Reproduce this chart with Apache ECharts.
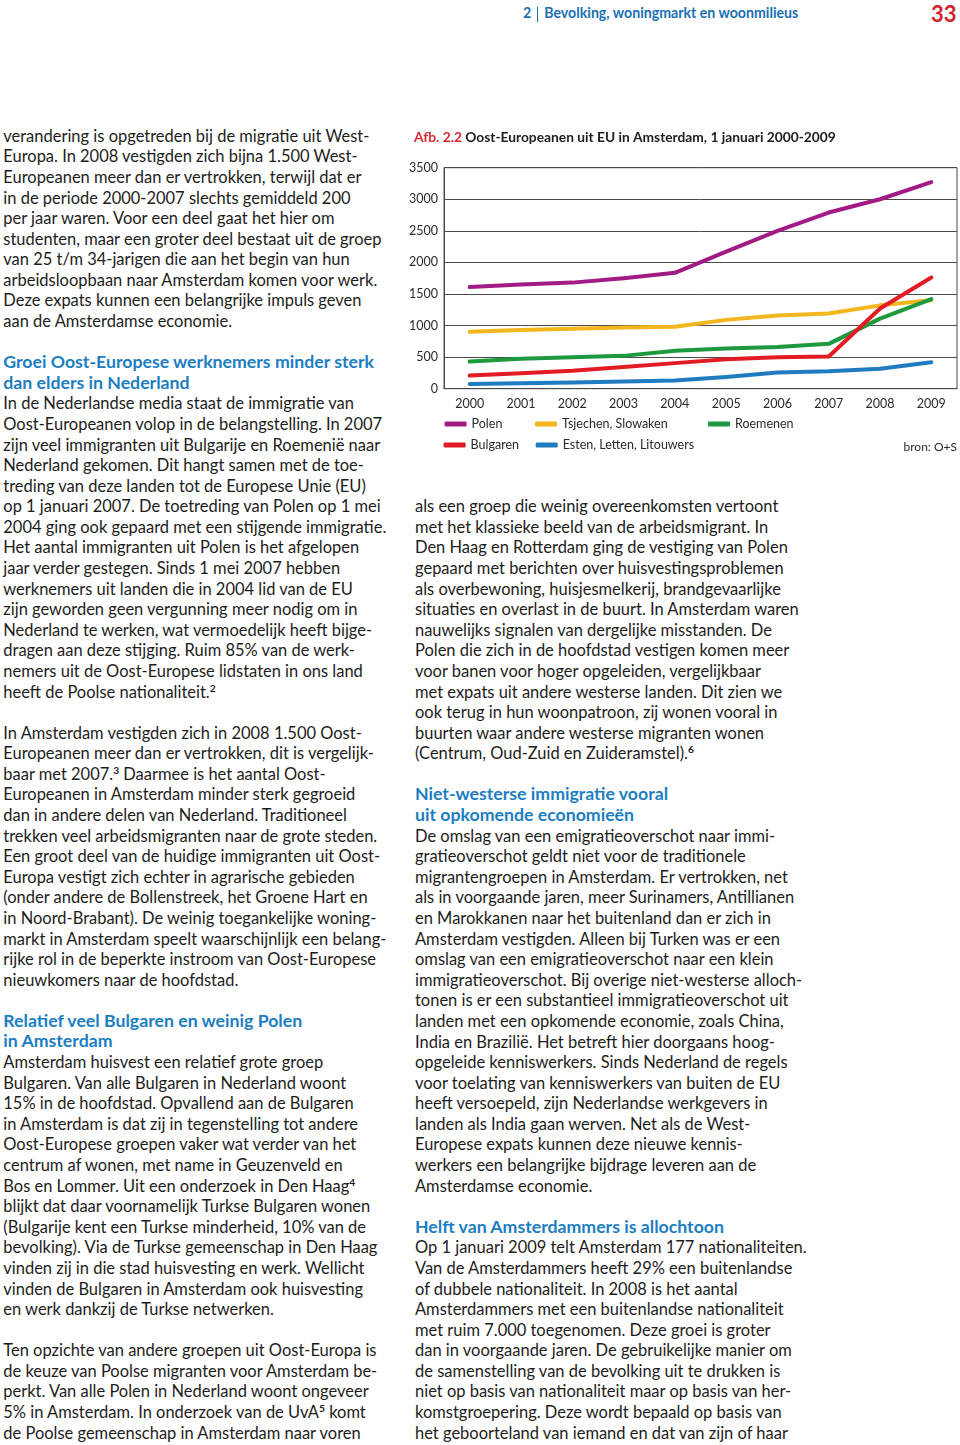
<!DOCTYPE html>
<html><head><meta charset="utf-8">
<script src="https://cdn.jsdelivr.net/npm/echarts@6/dist/echarts.min.js"></script>
<style>
html,body{margin:0;padding:0;background:#fff;}
#page{position:relative;width:960px;height:1445px;overflow:hidden;font-family:Lato,'Noto Sans',sans-serif;color:#1d1d1b;background:#fff;}
.ln{position:absolute;white-space:nowrap;}
.h{color:#1b7ec2;font-weight:bold;}
sup{font-size:0.62em;line-height:0;vertical-align:0.6em;font-weight:bold;}
#chart{position:absolute;left:400px;top:120px;width:560px;height:345px;}
#hdr{position:absolute;left:523px;white-space:nowrap;color:#1a6fb4;font-weight:bold;}
#hdr .bar{display:inline-block;width:1px;background:#1a6fb4;margin:0 6px 0 6px;vertical-align:middle;}
#pnum{position:absolute;left:931px;top:0.5px;color:#d2232a;font-weight:bold;white-space:nowrap;font-size:22px;line-height:26px;}
</style></head><body><div id="page"><div id="hdr"></div><div id="pnum">33</div><div id="chart"></div></div>
<script>
// ---- chart data ----
const categories = ['2000','2001','2002','2003','2004','2005','2006','2007','2008','2009'];
const seriesNames = ['Polen','Tsjechen, Slowaken','Roemenen','Bulgaren','Esten, Letten, Litouwers'];
const polen    = [1610,1650,1680,1750,1835,2170,2500,2790,3000,3270];
const tsjechen = [900,930,950,970,980,1090,1160,1190,1320,1400];
const roemenen = [430,475,500,520,600,635,660,710,1110,1420];
const bulgaren = [210,245,285,345,405,465,500,510,1270,1760];
const esten    = [75,85,100,115,130,185,255,275,315,420];
const yMin = 0, yMax = 3500, yStep = 500;
const chartTitleRed = 'Afb. 2.2';
const chartTitleRest = 'Oost-Europeanen uit EU in Amsterdam, 1 januari 2000-2009';
const sourceText = 'bron: O+S';

// ---- page text ----
const leftLines = [
'verandering is opgetreden bij de migratie uit West-',
'Europa. In 2008 vestigden zich bijna 1.500 West-',
'Europeanen meer dan er vertrokken, terwijl dat er',
'in de periode 2000-2007 slechts gemiddeld 200',
'per jaar waren. Voor een deel gaat het hier om',
'studenten, maar een groter deel bestaat uit de groep',
'van 25 t/m 34-jarigen die aan het begin van hun',
'arbeidsloopbaan naar Amsterdam komen voor werk.',
'Deze expats kunnen een belangrijke impuls geven',
'aan de Amsterdamse economie.',
'',
'#Groei Oost-Europese werknemers minder sterk',
'#dan elders in Nederland',
'In de Nederlandse media staat de immigratie van',
'Oost-Europeanen volop in de belangstelling. In 2007',
'zijn veel immigranten uit Bulgarije en Roemenië naar',
'Nederland gekomen. Dit hangt samen met de toe-',
'treding van deze landen tot de Europese Unie (EU)',
'op 1 januari 2007. De toetreding van Polen op 1 mei',
'2004 ging ook gepaard met een stijgende immigratie.',
'Het aantal immigranten uit Polen is het afgelopen',
'jaar verder gestegen. Sinds 1 mei 2007 hebben',
'werknemers uit landen die in 2004 lid van de EU',
'zijn geworden geen vergunning meer nodig om in',
'Nederland te werken, wat vermoedelijk heeft bijge-',
'dragen aan deze stijging. Ruim 85% van de werk-',
'nemers uit de Oost-Europese lidstaten in ons land',
'heeft de Poolse nationaliteit.^2',
'',
'In Amsterdam vestigden zich in 2008 1.500 Oost-',
'Europeanen meer dan er vertrokken, dit is vergelijk-',
'baar met 2007.^3 Daarmee is het aantal Oost-',
'Europeanen in Amsterdam minder sterk gegroeid',
'dan in andere delen van Nederland. Traditioneel',
'trekken veel arbeidsmigranten naar de grote steden.',
'Een groot deel van de huidige immigranten uit Oost-',
'Europa vestigt zich echter in agrarische gebieden',
'(onder andere de Bollenstreek, het Groene Hart en',
'in Noord-Brabant). De weinig toegankelijke woning-',
'markt in Amsterdam speelt waarschijnlijk een belang-',
'rijke rol in de beperkte instroom van Oost-Europese',
'nieuwkomers naar de hoofdstad.',
'',
'#Relatief veel Bulgaren en weinig Polen',
'#in Amsterdam',
'Amsterdam huisvest een relatief grote groep',
'Bulgaren. Van alle Bulgaren in Nederland woont',
'15% in de hoofdstad. Opvallend aan de Bulgaren',
'in Amsterdam is dat zij in tegenstelling tot andere',
'Oost-Europese groepen vaker wat verder van het',
'centrum af wonen, met name in Geuzenveld en',
'Bos en Lommer. Uit een onderzoek in Den Haag^4',
'blijkt dat daar voornamelijk Turkse Bulgaren wonen',
'(Bulgarije kent een Turkse minderheid, 10% van de',
'bevolking). Via de Turkse gemeenschap in Den Haag',
'vinden zij in die stad huisvesting en werk. Wellicht',
'vinden de Bulgaren in Amsterdam ook huisvesting',
'en werk dankzij de Turkse netwerken.',
'',
'Ten opzichte van andere groepen uit Oost-Europa is',
'de keuze van Poolse migranten voor Amsterdam be-',
'perkt. Van alle Polen in Nederland woont ongeveer',
'5% in Amsterdam. In onderzoek van de UvA^5 komt',
'de Poolse gemeenschap in Amsterdam naar voren'
];
const rightStart = 18;
const rightLines = [
'als een groep die weinig overeenkomsten vertoont',
'met het klassieke beeld van de arbeidsmigrant. In',
'Den Haag en Rotterdam ging de vestiging van Polen',
'gepaard met berichten over huisvestingsproblemen',
'als overbewoning, huisjesmelkerij, brandgevaarlijke',
'situaties en overlast in de buurt. In Amsterdam waren',
'nauwelijks signalen van dergelijke misstanden. De',
'Polen die zich in de hoofdstad vestigen komen meer',
'voor banen voor hoger opgeleiden, vergelijkbaar',
'met expats uit andere westerse landen. Dit zien we',
'ook terug in hun woonpatroon, zij wonen vooral in',
'buurten waar andere westerse migranten wonen',
'(Centrum, Oud-Zuid en Zuideramstel).^6',
'',
'#Niet-westerse immigratie vooral',
'#uit opkomende economieën',
'De omslag van een emigratieoverschot naar immi-',
'gratieoverschot geldt niet voor de traditionele',
'migrantengroepen in Amsterdam. Er vertrokken, net',
'als in voorgaande jaren, meer Surinamers, Antillianen',
'en Marokkanen naar het buitenland dan er zich in',
'Amsterdam vestigden. Alleen bij Turken was er een',
'omslag van een emigratieoverschot naar een klein',
'immigratieoverschot. Bij overige niet-westerse alloch-',
'tonen is er een substantieel immigratieoverschot uit',
'landen met een opkomende economie, zoals China,',
'India en Brazilië. Het betreft hier doorgaans hoog-',
'opgeleide kenniswerkers. Sinds Nederland de regels',
'voor toelating van kenniswerkers van buiten de EU',
'heeft versoepeld, zijn Nederlandse werkgevers in',
'landen als India gaan werven. Net als de West-',
'Europese expats kunnen deze nieuwe kennis-',
'werkers een belangrijke bijdrage leveren aan de',
'Amsterdamse economie.',
'',
'#Helft van Amsterdammers is allochtoon',
'Op 1 januari 2009 telt Amsterdam 177 nationaliteiten.',
'Van de Amsterdammers heeft 29% een buitenlandse',
'of dubbele nationaliteit. In 2008 is het aantal',
'Amsterdammers met een buitenlandse nationaliteit',
'met ruim 7.000 toegenomen. Deze groei is groter',
'dan in voorgaande jaren. De gebruikelijke manier om',
'de samenstelling van de bevolking uit te drukken is',
'niet op basis van nationaliteit maar op basis van her-',
'komstgroepering. Deze wordt bepaald op basis van',
'het geboorteland van iemand en dat van zijn of haar'
];

// ---- fitting helpers ----
const cv = document.createElement('canvas').getContext('2d');
function fit(text, weight, target){
  cv.font = weight + ' 100px Lato';
  return 100 * target / cv.measureText(text).width;
}
const fsB = fit(leftLines[0], 'normal', 366.7);
const fsH = fit('Groei Oost-Europese werknemers minder sterk', 'bold', 371.7);
const P = 20.585, Y0 = 137.5;
const page = document.getElementById('page');
function place(lines, start, x){
  lines.forEach((t, k) => {
    if (!t) return;
    const i = start + k;
    const isH = t[0] === '#';
    const txt = isH ? t.slice(1) : t;
    const fs = isH ? fsH : fsB;
    const d = document.createElement('div');
    d.className = 'ln' + (isH ? ' h' : '');
    d.style.left = x + 'px';
    d.style.top = (Y0 + i * P - P / 2 - 0.087 * fs) + 'px';
    d.style.fontSize = fs + 'px';
    d.style.lineHeight = P + 'px';
    d.innerHTML = txt.replace(/\^(\d)/g, '<sup>$1</sup>');
    page.appendChild(d);
  });
}
place(leftLines, 0, 3.3);
place(rightLines, rightStart, 415);

// header
const hdrText = 'Bevolking, woningmarkt en woonmilieus';
const fsHdr = fit(hdrText, 'bold', 255);
const hdr = document.getElementById('hdr');
hdr.style.fontSize = fsHdr + 'px';
hdr.style.lineHeight = '20px';
hdr.style.top = (14 - 10 - 0.05 * fsHdr) + 'px';
hdr.innerHTML = '2<span class="bar" style="height:' + (fsHdr * 1.05) + 'px"></span>' + hdrText;

// ---- chart ----
const fsT = fit(chartTitleRed + ' ' + chartTitleRest, 'bold', 422);
const colors = ['#a21a84', '#f4b61e', '#1e9a3e', '#e21b24', '#1f7cc0'];
const dataSets = [polen, tsjechen, roemenen, bulgaren, esten];
const lab = { fontFamily: 'Lato', fontSize: 12.5, color: '#2a2a2a' };
const legendPos = [[44.6, 304], [135, 304], [308, 304], [43.6, 325], [135.7, 325]];
const chart = echarts.init(document.getElementById('chart'), null, { renderer: 'canvas' });
chart.setOption({
  animation: false,
  backgroundColor: '#fff',
  title: {
    text: '{r|' + chartTitleRed + '} ' + chartTitleRest,
    left: 14, top: 17.5 - fsT * 0.6, padding: 0,
    textStyle: { fontFamily: 'Lato', fontWeight: 'bold', fontSize: fsT, color: '#1d1d1b', lineHeight: fsT * 1.2,
      rich: { r: { fontFamily: 'Lato', fontWeight: 'bold', fontSize: fsT, color: '#d52a30', lineHeight: fsT * 1.2 } } }
  },
  grid: { left: 44, top: 47.7, width: 513, height: 221, show: true, borderColor: '#4a4a4a', borderWidth: 1, containLabel: false },
  xAxis: {
    type: 'category', data: categories, boundaryGap: true,
    axisLine: { show: true, lineStyle: { color: '#4a4a4a', width: 1 } },
    axisTick: { show: false },
    axisLabel: Object.assign({ margin: 8.5 }, lab),
    splitLine: { show: false }
  },
  yAxis: {
    type: 'value', min: yMin, max: yMax, interval: yStep,
    axisLine: { show: true, lineStyle: { color: '#4a4a4a', width: 1 } },
    axisTick: { show: false },
    axisLabel: Object.assign({ margin: 6, formatter: v => String(v) }, lab),
    splitLine: { show: true, lineStyle: { color: '#4a4a4a', width: 1 } }
  },
  legend: seriesNames.map((n, i) => ({
    data: [n], left: legendPos[i][0], top: legendPos[i][1] - 7, padding: 0,
    icon: 'roundRect', itemWidth: 22, itemHeight: 5,
    itemStyle: { borderWidth: 0 },
    textStyle: { fontFamily: 'Lato', fontSize: 12.5, color: '#2a2a2a', lineHeight: 14 },
    selectedMode: false
  })),
  graphic: [{
    type: 'text', right: 3, top: 327 - 7,
    style: { text: sourceText, fontFamily: 'Lato', fontSize: 12, fill: '#2a2a2a', lineHeight: 14 }
  }],
  series: seriesNames.map((n, i) => ({
    name: n, type: 'line', data: dataSets[i], symbol: 'none', color: colors[i],
    lineStyle: { width: 4, color: colors[i], cap: 'round', join: 'round' },
    emphasis: { disabled: true }
  }))
});
</script></body></html>
